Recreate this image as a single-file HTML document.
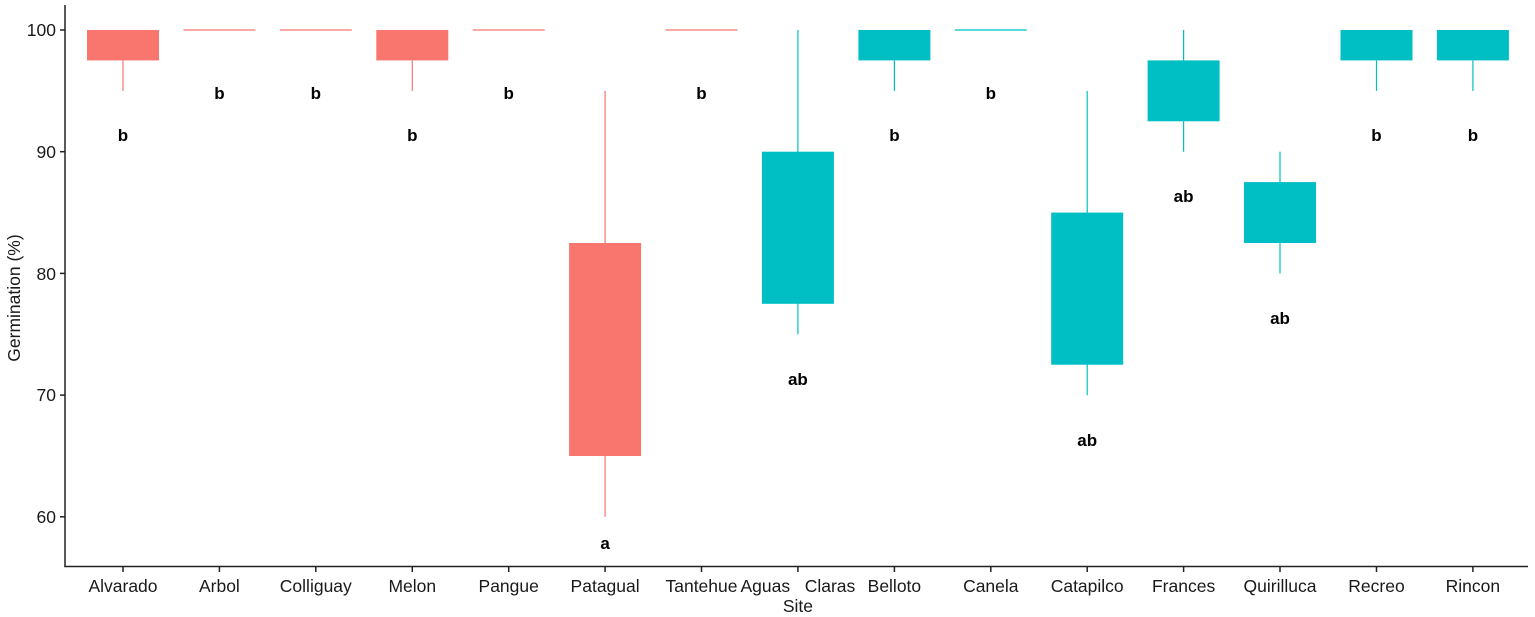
<!DOCTYPE html>
<html><head><meta charset="utf-8"><style>
html,body{margin:0;padding:0;background:#fff;}
svg{display:block;font-family:"Liberation Sans",Arial,sans-serif;}
.t{font-size:17.5px;fill:#1a1a1a;}
.l{font-size:17px;font-weight:bold;fill:#000;text-anchor:middle;}
</style></head><body>
<svg width="1535" height="617" viewBox="0 0 1535 617" xmlns="http://www.w3.org/2000/svg">
<g stroke="#F8766D" stroke-width="1.2" fill="#F8766D">
<line x1="123" y1="60.4" x2="123" y2="90.9"/><rect x="87" y="30" width="72" height="30.4" stroke="none"/>
<line x1="183.4" y1="30" x2="255.4" y2="30"/>
<line x1="279.8" y1="30" x2="351.8" y2="30"/>
<line x1="412.3" y1="60.4" x2="412.3" y2="90.9"/><rect x="376.3" y="30" width="72" height="30.4" stroke="none"/>
<line x1="472.7" y1="30" x2="544.7" y2="30"/>
<line x1="605.1" y1="90.9" x2="605.1" y2="516.8"/><rect x="569.1" y="243" width="72" height="213" stroke="none"/>
<line x1="665.5" y1="30" x2="737.5" y2="30"/>
</g>
<g stroke="#00BFC4" stroke-width="1.2" fill="#00BFC4">
<line x1="797.9" y1="30" x2="797.9" y2="334.3"/><rect x="761.9" y="151.7" width="72" height="152.1" stroke="none"/>
<line x1="894.4" y1="60.4" x2="894.4" y2="90.9"/><rect x="858.4" y="30" width="72" height="30.4" stroke="none"/>
<line x1="954.8" y1="30" x2="1026.8" y2="30"/>
<line x1="1087.2" y1="90.9" x2="1087.2" y2="395.1"/><rect x="1051.2" y="212.6" width="72" height="152.1" stroke="none"/>
<line x1="1183.6" y1="30" x2="1183.6" y2="151.7"/><rect x="1147.6" y="60.4" width="72" height="60.9" stroke="none"/>
<line x1="1280" y1="151.7" x2="1280" y2="273.4"/><rect x="1244" y="182.1" width="72" height="60.9" stroke="none"/>
<line x1="1376.5" y1="60.4" x2="1376.5" y2="90.9"/><rect x="1340.5" y="30" width="72" height="30.4" stroke="none"/>
<line x1="1472.9" y1="60.4" x2="1472.9" y2="90.9"/><rect x="1436.9" y="30" width="72" height="30.4" stroke="none"/>
</g>
<text class="l" x="123" y="141">b</text>
<text class="l" x="219.4" y="99">b</text>
<text class="l" x="315.8" y="99">b</text>
<text class="l" x="412.3" y="141">b</text>
<text class="l" x="508.7" y="99">b</text>
<text class="l" x="605.1" y="549">a</text>
<text class="l" x="701.5" y="99">b</text>
<text class="l" x="797.9" y="385">ab</text>
<text class="l" x="894.4" y="141">b</text>
<text class="l" x="990.8" y="99">b</text>
<text class="l" x="1087.2" y="446">ab</text>
<text class="l" x="1183.6" y="202">ab</text>
<text class="l" x="1280" y="324">ab</text>
<text class="l" x="1376.5" y="141">b</text>
<text class="l" x="1472.9" y="141">b</text>
<g stroke="#222" stroke-width="1.5">
<line x1="65" y1="5" x2="65" y2="567"/>
<line x1="64.3" y1="566.5" x2="1528" y2="566.5"/>
<line x1="60" y1="30" x2="65" y2="30"/>
<line x1="60" y1="151.7" x2="65" y2="151.7"/>
<line x1="60" y1="273.4" x2="65" y2="273.4"/>
<line x1="60" y1="395.1" x2="65" y2="395.1"/>
<line x1="60" y1="516.8" x2="65" y2="516.8"/>
<line x1="123" y1="567" x2="123" y2="572"/>
<line x1="219.4" y1="567" x2="219.4" y2="572"/>
<line x1="315.8" y1="567" x2="315.8" y2="572"/>
<line x1="412.3" y1="567" x2="412.3" y2="572"/>
<line x1="508.7" y1="567" x2="508.7" y2="572"/>
<line x1="605.1" y1="567" x2="605.1" y2="572"/>
<line x1="701.5" y1="567" x2="701.5" y2="572"/>
<line x1="797.9" y1="567" x2="797.9" y2="572"/>
<line x1="894.4" y1="567" x2="894.4" y2="572"/>
<line x1="990.8" y1="567" x2="990.8" y2="572"/>
<line x1="1087.2" y1="567" x2="1087.2" y2="572"/>
<line x1="1183.6" y1="567" x2="1183.6" y2="572"/>
<line x1="1280" y1="567" x2="1280" y2="572"/>
<line x1="1376.5" y1="567" x2="1376.5" y2="572"/>
<line x1="1472.9" y1="567" x2="1472.9" y2="572"/>
</g>
<g class="t" text-anchor="end">
<text x="56" y="36">100</text>
<text x="56" y="158">90</text>
<text x="56" y="280">80</text>
<text x="56" y="401">70</text>
<text x="56" y="523">60</text>
</g>
<g class="t" text-anchor="middle">
<text x="123" y="592">Alvarado</text>
<text x="219.4" y="592">Arbol</text>
<text x="315.8" y="592">Colliguay</text>
<text x="412.3" y="592">Melon</text>
<text x="508.7" y="592">Pangue</text>
<text x="605.1" y="592">Patagual</text>
<text x="701.5" y="592">Tantehue</text>
<text x="797.9" y="592">Aguas&#160;&#160;&#160;Claras</text>
<text x="894.4" y="592">Belloto</text>
<text x="990.8" y="592">Canela</text>
<text x="1087.2" y="592">Catapilco</text>
<text x="1183.6" y="592">Frances</text>
<text x="1280" y="592">Quirilluca</text>
<text x="1376.5" y="592">Recreo</text>
<text x="1472.9" y="592">Rincon</text>
<text x="797.9" y="612">Site</text>
<text transform="translate(20,298) rotate(-90)">Germination (%)</text>
</g>
</svg>
</body></html>
